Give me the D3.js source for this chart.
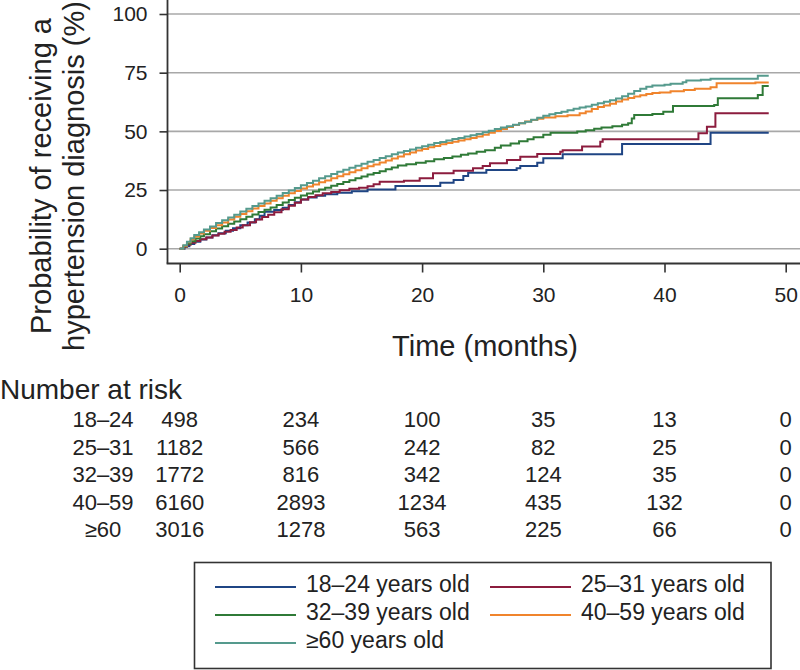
<!DOCTYPE html>
<html>
<head>
<meta charset="utf-8">
<script src="https://cdn.jsdelivr.net/npm/d3@7"></script>
<style>
  html, body { margin: 0; padding: 0; background: #fff; }
  svg { display: block; font-family: "Liberation Sans", Arial, Helvetica, sans-serif; }
</style>
</head>
<body>
<svg id="chart" width="800" height="670"></svg>
<script>
// ---------- DATA ----------
const seriesNames = ["18–24 years old", "25–31 years old", "32–39 years old", "40–59 years old", "≥60 years old"];
const seriesColors = ["#1f4584", "#8c1c3e", "#2f7a37", "#f0842c", "#559a8d"];

const xTicks = [0, 10, 20, 30, 40, 50];
const yTicks = [0, 25, 50, 75, 100];

// [time (months), cumulative probability (%)]
const age18_24 = [[0,0],[0.4,1],[0.8,2],[1.2,3],[1.7,3.9],[2.2,4.8],[2.7,5.7],[3.2,6.6],[3.8,7.6],[4.4,8.7],[5,10],[5.6,11.2],[6.2,12.5],[6.6,14],[7,15.7],[7.8,16.5],[8.5,17.5],[9,18.6],[9.5,19.8],[10,21],[10.6,21.8],[11.3,22.6],[12,23.2],[13,23.8],[14.2,24.5],[15.5,25.2],[17.8,26.7],[21.5,28.1],[22.6,29.3],[23.4,31],[23.8,32.4],[25.3,33.5],[27.8,34.3],[28.1,35.2],[29.5,36.6],[30,38.5],[31.6,40.2],[36.5,44.6],[43.8,49.4],[48.6,49.4]];
const age25_31 = [[0,0],[0.3,0.8],[0.6,1.7],[0.9,2.5],[1.3,3.3],[1.7,4],[2.2,4.8],[2.7,5.6],[3.2,6.4],[3.7,7.2],[4.2,8],[4.7,9],[5.2,10],[5.8,11.3],[6.3,12.4],[6.8,13.5],[7.3,14.5],[7.8,15.5],[8.4,16.8],[9,18.3],[9.5,19.6],[10,21],[10.6,22],[11.2,22.8],[11.8,23.6],[12.5,24.2],[13.2,24.9],[14,25.5],[14.8,26],[15.5,26.6],[16,27.5],[16.5,28.5],[18.5,29],[19.8,30],[20.9,32.1],[22.6,33.2],[24.2,34.3],[25,35.2],[25.6,36.4],[27,37.8],[28.1,39.2],[29.5,40.3],[31.4,41.3],[31.6,42],[33.2,43.5],[34.7,45.6],[34.9,46.6],[42.8,49.2],[43.5,52],[44.2,57.7],[48.6,57.7]];
const age32_39 = [[0,0],[0.3,1],[0.6,2.1],[0.9,3.2],[1.3,4.3],[1.7,5.3],[2,6.2],[2.5,7.4],[3,8.6],[3.5,9.6],[4,10.6],[4.5,11.6],[5,12.6],[5.5,13.6],[6,14.6],[6.5,15.6],[7,16.6],[7.5,17.6],[8,18.6],[8.5,19.7],[9,20.7],[9.5,21.7],[10,22.7],[10.5,23.5],[11,24.4],[11.5,25.2],[12,26],[12.5,26.8],[13,27.6],[13.5,28.4],[14,29.2],[14.5,30],[15,30.8],[15.5,31.6],[16,32.3],[16.5,33],[17,33.8],[17.5,34.6],[18,35.4],[18.7,36],[19.5,36.6],[20.3,37.3],[21,38.1],[21.8,38.6],[22.5,39.3],[23.2,40],[23.8,40.6],[24.5,41.3],[25.2,42],[26,43],[26.5,44],[27.3,44.8],[28,45.8],[28.7,46.6],[29.2,47.5],[30,48.5],[30.6,49.4],[32.8,49.9],[33.5,50.5],[34.2,51.1],[34.8,51.6],[35.7,52.2],[36.5,52.8],[37,53.4],[37.3,55.5],[37.5,57],[39,57.4],[39.9,58.4],[40.7,60.8],[44.1,61.2],[44.4,64.1],[47.7,65.5],[48.1,69.3],[48.6,69.3]];
const age40_59 = [[0,0],[0.3,1.3],[0.6,2.7],[0.9,4],[1.2,5.2],[1.6,6.5],[2,7.6],[2.5,8.8],[3,10],[3.5,11.2],[4,12.4],[4.5,13.6],[5,14.8],[5.5,16],[6,17.1],[6.5,18.2],[7,19.3],[7.5,20.4],[8,21.5],[8.5,22.6],[9,23.6],[9.5,24.6],[10,25.6],[10.5,26.5],[11,27.4],[11.5,28.3],[12,29.1],[12.5,30],[13,30.9],[13.5,31.7],[14,32.6],[14.5,33.4],[15,34.3],[15.5,35.1],[16,35.9],[16.5,36.7],[17,37.6],[17.5,38.4],[18,39.3],[18.5,40.2],[19,41],[19.5,41.8],[20,42.5],[20.5,43.2],[21,43.8],[21.5,44.5],[22,45],[22.5,45.6],[23,46.1],[23.5,46.6],[24,47.2],[24.5,47.8],[25,48.6],[25.5,49.4],[26,50.2],[26.5,51],[27,51.9],[27.5,52.7],[28,53.5],[28.5,54.2],[29,54.8],[29.5,55.4],[30,55.9],[31,56.4],[32,56.9],[33,57.7],[33.5,58.5],[34,59.5],[34.5,60.4],[35,61],[35.5,61.8],[36,62.7],[36.5,63.6],[37,64.2],[37.5,64.9],[38,65.4],[38.5,65.9],[39,66.3],[39.6,66.6],[40.5,67.1],[41.6,67.6],[42.5,68.2],[43.8,68.8],[44.3,70.5],[47.5,70.8],[48.6,70.8]];
const age60plus = [[0,0],[0.3,1.5],[0.6,3],[0.9,4.5],[1.2,5.8],[1.6,7],[2,8.2],[2.5,9.5],[3,10.9],[3.5,12.1],[4,13.3],[4.5,14.5],[5,15.8],[5.5,17],[6,18.2],[6.5,19.3],[7,20.4],[7.5,21.5],[8,22.6],[8.5,23.7],[9,24.8],[9.5,25.9],[10,27],[10.5,28],[11,29],[11.5,30],[12,30.9],[12.5,31.8],[13,32.8],[13.5,33.6],[14,34.5],[14.5,35.3],[15,36.2],[15.5,37],[16,37.8],[16.5,38.6],[17,39.4],[17.5,40.2],[18,41],[18.5,41.6],[19,42.3],[19.5,43],[20,43.6],[20.5,44.3],[21,45],[21.5,45.5],[22,46.1],[22.5,46.7],[23,47.2],[23.5,47.8],[24,48.3],[24.5,48.9],[25,49.6],[25.5,50.3],[26,51],[26.5,51.6],[27,52.2],[27.5,52.8],[28,53.5],[28.5,54.1],[29,54.9],[29.5,55.8],[30,56.6],[30.5,57.3],[31,57.8],[31.5,58.4],[32,59],[32.5,59.6],[33,60.2],[33.5,60.6],[34,61.3],[34.5,62],[35,62.6],[35.5,63.2],[36,64],[36.5,65],[37,66],[37.5,67.2],[38,68.2],[38.5,69],[39,69.5],[40,69.9],[40.5,70.3],[41.5,70.9],[41.8,71.7],[43,72],[43.8,72.4],[47.7,73.7],[48.6,73.7]];

const riskGroups = ["18–24", "25–31", "32–39", "40–59", "≥60"];
const risk18_24 = [498, 234, 100, 35, 13, 0];
const risk25_31 = [1182, 566, 242, 82, 25, 0];
const risk32_39 = [1772, 816, 342, 124, 35, 0];
const risk40_59 = [6160, 2893, 1234, 435, 132, 0];
const risk60plus = [3016, 1278, 563, 225, 66, 0];

// ---------- DRAW ----------
const seriesData = [age18_24, age25_31, age32_39, age40_59, age60plus];
const riskRows = [risk18_24, risk25_31, risk32_39, risk40_59, risk60plus];

const svg = d3.select("#chart");
const x = d3.scaleLinear().domain([0, 50]).range([179.7, 785.7]);
const y = d3.scaleLinear().domain([0, 100]).range([248.7, 14]);

const axisX0 = 167.5, axisY0 = 263.5, rightEdge = 800;

// gridlines
svg.append("g").selectAll("line").data(yTicks).join("line")
  .attr("x1", axisX0).attr("x2", rightEdge)
  .attr("y1", d => y(d)).attr("y2", d => y(d))
  .attr("stroke", "#a8a8a8").attr("stroke-width", 1.6);

// y axis
const gy = svg.append("g").attr("transform", `translate(${axisX0},0)`)
  .call(d3.axisLeft(y).tickValues(yTicks).tickSize(8).tickPadding(12));
gy.select(".domain").remove();
gy.selectAll(".tick line").attr("stroke", "#333").attr("stroke-width", 1.6);
gy.selectAll(".tick text").attr("font-size", 21).attr("fill", "#222")
  .attr("font-family", "'Liberation Sans', Arial, sans-serif");
svg.append("line").attr("x1", axisX0).attr("x2", axisX0).attr("y1", 0).attr("y2", axisY0)
  .attr("stroke", "#333").attr("stroke-width", 1.8);

// x axis
const gx = svg.append("g").attr("transform", `translate(0,${axisY0})`)
  .call(d3.axisBottom(x).tickValues(xTicks).tickSize(9).tickPadding(15));
gx.select(".domain").remove();
gx.selectAll(".tick line").attr("stroke", "#333").attr("stroke-width", 1.6);
gx.selectAll(".tick text").attr("font-size", 21).attr("fill", "#222")
  .attr("font-family", "'Liberation Sans', Arial, sans-serif");
svg.append("line").attr("x1", axisX0 - 0.9).attr("x2", rightEdge).attr("y1", axisY0).attr("y2", axisY0)
  .attr("stroke", "#333").attr("stroke-width", 1.8);

// curves
const line = d3.line().x(d => x(d[0])).y(d => y(d[1])).curve(d3.curveStepAfter);
svg.append("g").selectAll("path").data(seriesData).join("path")
  .attr("d", line).attr("fill", "none")
  .attr("stroke", (d, i) => seriesColors[i]).attr("stroke-width", 2)
  .attr("stroke-linejoin", "miter");

// axis titles
const yTitle = svg.append("text").attr("transform", "translate(51,176) rotate(-90)")
  .attr("text-anchor", "middle").attr("font-size", 29).attr("fill", "#222");
yTitle.append("tspan").attr("x", 0).attr("y", 0).text("Probability of receiving a");
yTitle.append("tspan").attr("x", 0).attr("y", 33).text("hypertension diagnosis (%)");

svg.append("text").attr("x", 485).attr("y", 356).attr("text-anchor", "middle")
  .attr("font-size", 29).attr("fill", "#222").text("Time (months)");

// number at risk table
svg.append("text").attr("x", 0).attr("y", 399).attr("font-size", 28).attr("fill", "#222").text("Number at risk");
const rowY = d3.scalePoint().domain(riskGroups).range([427, 537]);
const rows = svg.append("g").selectAll("g").data(riskGroups).join("g")
  .attr("transform", d => `translate(0,${rowY(d)})`);
rows.append("text").attr("x", 103).attr("text-anchor", "middle").attr("font-size", 22)
  .attr("fill", "#222").text(d => d);
rows.each(function (g, i) {
  d3.select(this).selectAll("text.n").data(riskRows[i]).join("text").attr("class", "n")
    .attr("x", (d, j) => x(xTicks[j])).attr("text-anchor", "middle")
    .attr("font-size", 22).attr("fill", "#222").text(d => d);
});

// legend
const lg = svg.append("g");
lg.append("rect").attr("x", 194.5).attr("y", 562.5).attr("width", 576.5).attr("height", 106)
  .attr("fill", "#fff").attr("stroke", "#333").attr("stroke-width", 1.6);
const legX = [215, 490], legY = [587, 615, 643];
const items = lg.selectAll("g.item").data(seriesNames).join("g").attr("class", "item")
  .attr("transform", (d, i) => `translate(${legX[i % 2]},${legY[Math.floor(i / 2)]})`);
items.append("line").attr("x1", 0).attr("x2", 81).attr("y1", 0).attr("y2", 0)
  .attr("stroke", (d, i) => seriesColors[i]).attr("stroke-width", 1.8);
items.append("text").attr("x", 91).attr("y", 5).attr("font-size", 23).attr("fill", "#222")
  .text(d => d);
</script>
</body>
</html>
